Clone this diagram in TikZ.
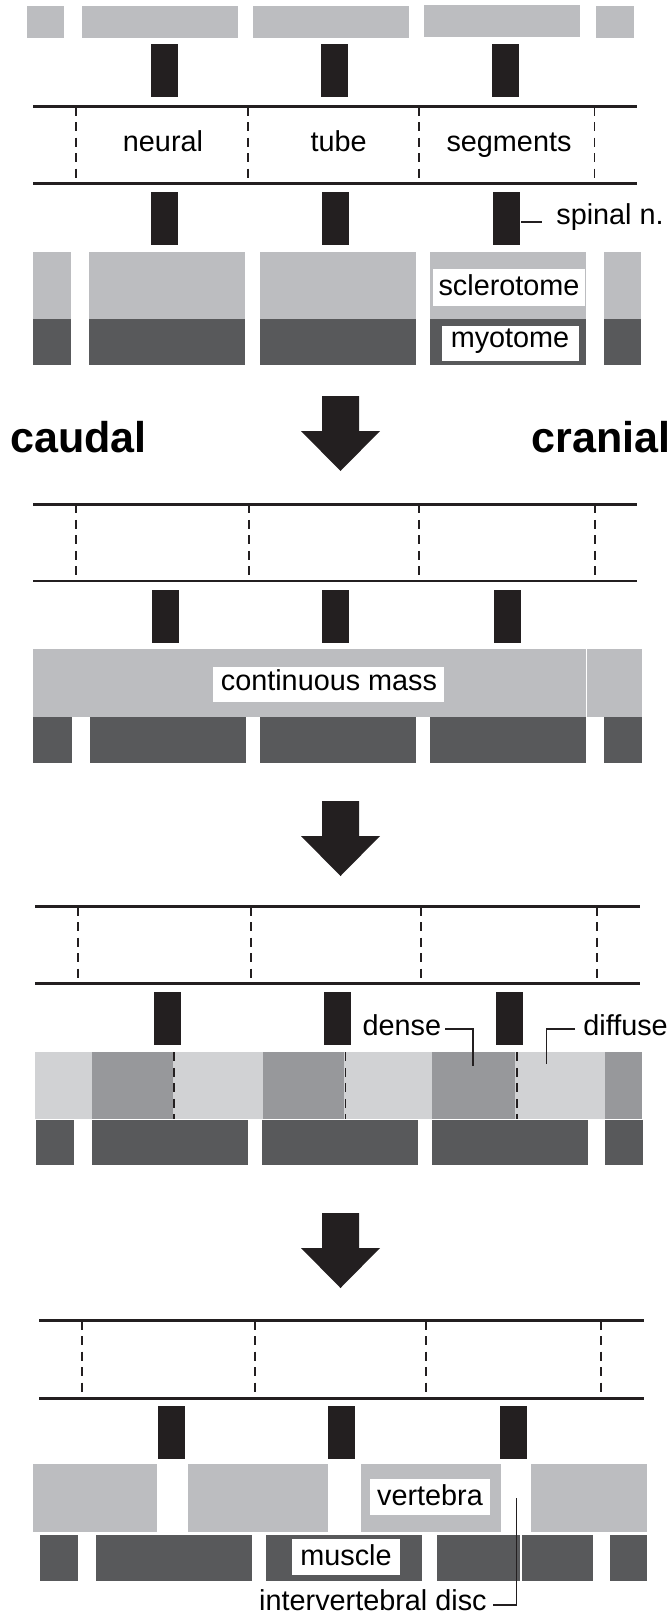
\documentclass[tikz,border=0pt]{standalone}
\usepackage{fontspec}
\setmainfont{Liberation Sans}
\usetikzlibrary{positioning}
\definecolor{sclgray}{HTML}{BCBDC0}
\definecolor{myogray}{HTML}{58595B}
\definecolor{nervecol}{HTML}{231F20}
\definecolor{densegray}{HTML}{97989B}
\definecolor{diffgray}{HTML}{D1D2D4}
\tikzset{
  x = 0.02cm,
  y = -0.02cm,
  scl/.style = {fill=sclgray},
  myo/.style = {fill=myogray},
  nerve/.style = {fill=nervecol},
  densebox/.style = {fill=densegray},
  diffbox/.style = {fill=diffgray},
  whitebox/.style = {fill=white},
  tubeline/.style = {line width=1.5pt, draw=nervecol},
  segline/.style = {line width=1.1pt, draw=nervecol, dash pattern=on 0.18cm off 0.13cm},
  leader/.style = {line width=0.9pt, draw=nervecol},
  lbl/.style = {inner sep=0pt, font=\fontsize{16.4}{19}\selectfont},
  side/.style = {inner sep=0pt, font=\fontsize{24.5}{28}\selectfont\bfseries},
}

\begin{document}
\begin{tikzpicture}
    \useasboundingbox (0,0) rectangle (672,1615);

    % panel 1
    \foreach \a/\b in {26.6/64.3, 82/238, 253/408.5, 596/633.5}
      \fill[scl] (\a,6) rectangle (\b,38);
    \fill[scl] (424,5) rectangle (580,37);
    \foreach \a in {151,321,492}
      \fill[nerve] (\a,44) rectangle (\a+27,97);
    \draw[tubeline] (33.4,106.7) -- (637.3,106.7);
    \draw[tubeline] (33.4,183.3) -- (637.3,183.3);
    \foreach \a in {75.9,248.2,418.8,594.5}
      \draw[segline] (\a,106.7) -- (\a,183.3);
    \node [lbl, anchor=base] (neural) at (163,152) {neural};
    \node [lbl, anchor=base] (tube) at (338.6,152) {tube};
    \node [lbl, anchor=base] (segments) at (509,152) {segments};
    \foreach \a in {151,322,493}
      \fill[nerve] (\a,192) rectangle (\a+27,245);
    \node [lbl, anchor=base west] (spinal) at (556,225) {spinal n.};
    \coordinate (spinal-a) at (521,222);
    \coordinate (spinal-b) at (542,222);
    \draw[leader] (spinal-a) -- (spinal-b);
    \foreach \a/\b in {33.4/71, 89/245, 260/416, 430/586, 603.5/641} {
      \fill[scl] (\a,252) rectangle (\b,319);
      \fill[myo] (\a,319) rectangle (\b,365);
    }
    \fill[whitebox] (433,269) rectangle (585,306);
    \fill[whitebox] (442,326) rectangle (579,361);
    \node [lbl, anchor=base] (sclerotome) at (509,295) {sclerotome};
    \node [lbl, anchor=base] (myotome) at (510,347) {myotome};

    % direction and arrows
    \node [side, anchor=base west] (caudal) at (10,452) {caudal};
    \node [side, anchor=base east] (cranial) at (671,452) {cranial};
    \foreach \t in {396,801,1213}
      \fill[nervecol] (322,\t) -- (359,\t) -- (359,\t+35) -- (380,\t+35)
        -- (340.5,\t+75) -- (301,\t+35) -- (322,\t+35) -- cycle;

    % panel 2
    \draw[tubeline] (33.4,504.3) -- (637.3,504.3);
    \draw[tubeline] (33.4,581) -- (637.3,581);
    \foreach \a in {76.3,248.6,419.2,595}
      \draw[segline] (\a,504.3) -- (\a,581);
    \foreach \a in {152,322,494}
      \fill[nerve] (\a,590) rectangle (\a+27,643);
    \fill[scl] (33.4,649) rectangle (585.5,716.7);
    \fill[scl] (587,649) rectangle (641.6,716.7);
    \fill[whitebox] (213,667) rectangle (443.6,702);
    \node [lbl, anchor=base] (mass) at (329,690) {continuous mass};
    \foreach \a/\b in {33.4/71.6, 90/246, 260/416, 430/586, 603.5/641.6}
      \fill[myo] (\a,716.7) rectangle (\b,762.7);

    % panel 3
    \draw[tubeline] (35,906.7) -- (640,906.7);
    \draw[tubeline] (35,983.3) -- (640,983.3);
    \foreach \a in {78,250.7,421.3,596.6}
      \draw[segline] (\a,906.7) -- (\a,983.3);
    \foreach \a in {154,324,496}
      \fill[nerve] (\a,992) rectangle (\a+27,1045);
    \fill[diffbox] (35,1052.3) rectangle (641.6,1119.3);
    \foreach \a/\b in {92/173, 262.7/344, 432/515, 604.8/641.6}
      \fill[densebox] (\a,1052.3) rectangle (\b,1119.3);
    \foreach \a in {174,345.5,516.7}
      \draw[segline] (\a,1052.3) -- (\a,1119.3);
    \foreach \a/\b in {36/74, 92/248, 262/418, 432/588, 604.8/643}
      \fill[myo] (\a,1120) rectangle (\b,1165);
    \node [lbl, anchor=base east] (dense) at (441.5,1035) {dense};
    \node [lbl, anchor=base west] (diffuse) at (583,1035) {diffuse};
    \coordinate (dense-a) at (445,1029);
    \coordinate (dense-b) at (473,1066);
    \coordinate (diffuse-a) at (575,1029);
    \coordinate (diffuse-b) at (546.7,1064);
    \draw[leader] (dense-a) -| (dense-b);
    \draw[leader] (diffuse-a) -| (diffuse-b);

    % panel 4
    \draw[tubeline] (39.4,1320.7) -- (643.8,1320.7);
    \draw[tubeline] (39.4,1398.3) -- (643.8,1398.3);
    \foreach \a in {82.3,255.4,425.6,601}
      \draw[segline] (\a,1320.7) -- (\a,1398.3);
    \foreach \a in {158,328,500}
      \fill[nerve] (\a,1406) rectangle (\a+27,1459);
    \foreach \a/\b in {33/157, 188/328, 361/501, 531/647}
      \fill[scl] (\a,1464) rectangle (\b,1531.7);
    \fill[whitebox] (369.5,1478.7) rectangle (490,1515);
    \node [lbl, anchor=base] (vertebra) at (430,1505) {vertebra};
    \foreach \a/\b in {40/78, 96/252, 266/422, 437/519.5, 522/593, 610/647}
      \fill[myo] (\a,1534.5) rectangle (\b,1580.5);
    \fill[whitebox] (292,1539) rectangle (399.5,1574.7);
    \node [lbl, anchor=base] (muscle) at (346,1565) {muscle};
    \node [lbl, anchor=base east] (disc) at (487,1610) {intervertebral disc};
    \coordinate (disc-a) at (493,1605);
    \coordinate (disc-b) at (516.7,1498);
    \draw[leader] (disc-a) -| (disc-b);
\end{tikzpicture}
\end{document}
